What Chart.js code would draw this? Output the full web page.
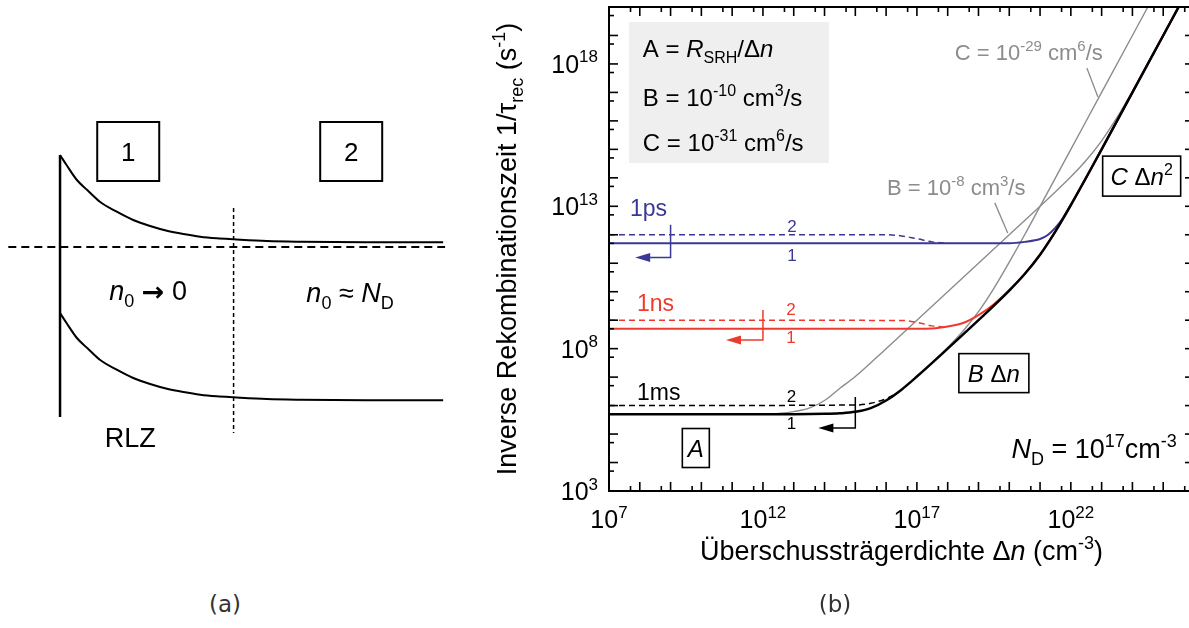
<!DOCTYPE html>
<html lang="de">
<head>
<meta charset="utf-8">
<title>Inverse Rekombinationszeit</title>
<script src="https://cdn.jsdelivr.net/npm/chart.js@4.4.1/dist/chart.umd.min.js"></script>
<style>
  html, body { margin: 0; padding: 0; background: #fff; }
  body { width: 1189px; height: 628px; position: relative; overflow: hidden; }
  .panel { position: absolute; }
  #panelA { left: 0; top: 100px; width: 460px; height: 360px; }
  #panelB { left: 490px; top: 0; width: 710px; height: 628px; }
  .caption { position: absolute; top: 591px; width: 80px; text-align: center;
             font: 23px "DejaVu Sans", sans-serif; color: #333; }
</style>
</head>
<body>
<div class="panel" id="panelA"><canvas id="bandChart"></canvas></div>
<div class="panel" id="panelB"><canvas id="rateChart"></canvas></div>
<div class="caption" style="left:185px">(a)</div>
<div class="caption" style="left:795px">(b)</div>
<script>
const FONT = '"Liberation Sans", Arial, Helvetica, sans-serif';
const BLUE = '#3b3895';
const RED = '#ee3a2d';
const GRAY = '#8c8c8c';

// ---------- (a) band diagram: position (arb. units) vs. energy relative to E_F ----------
const bandPos  = [0, 0.17, 0.44, 0.71, 1.04, 1.48, 1.91, 2.35, 2.79, 3.22, 3.66, 4.09, 4.53, 5.4, 6.27, 8.0, 10];
const condBand = [9.2, 8.2, 6.7, 5.7, 4.53, 3.53, 2.7, 2.1, 1.63, 1.3, 1.03, 0.87, 0.77, 0.6, 0.53, 0.47, 0.47];
const valBand  = [-6.6, -7.6, -9.1, -10.1, -11.27, -12.27, -13.1, -13.7, -14.17, -14.5, -14.77, -14.93, -15.03, -15.2, -15.27, -15.33, -15.33];
const fermiPos = [-1.35, 10.05];
const surfacePos = [0, 0];
const surfaceE = [9.2, -17.0];
const rlzEdgePos = [4.53, 4.53];
const rlzEdgeE = [3.9, -18.6];
const regionTags = ['1', '2'];
const regionTagPos = [1.78, 7.6];
const regionTagE = 9.55;

// ---------- (b) log10 of excess density Δn (cm^-3) and of 1/τ_rec (s^-1) ----------
// τ = 1 ms (black), 1 ns (red), 1 ps (blue); solid = region 1, dashed = region 2
const blackDn   = [7, 13, 14, 14.5, 15, 15.5, 16, 16.5, 17, 18, 19, 20, 20.5, 21, 21.5, 22, 23, 24, 25, 25.55];
const blackRate = [5.7, 5.7, 5.71, 5.73, 5.78, 5.91, 6.18, 6.56, 7.02, 8.0, 9.0, 10.04, 10.62, 11.3, 12.12, 13.04, 15.0, 17.0, 19.0, 20.1];
const blackDashDn   = [7, 15, 15.5, 16, 16.3];
const blackDashRate = [6.0, 6.02, 6.08, 6.24, 6.4];

const redDn   = [7, 17, 17.5, 18, 18.5, 19, 19.5, 20, 20.5, 21, 21.5, 22, 23, 24, 25, 25.55];
const redRate = [8.7, 8.7, 8.71, 8.78, 8.9, 9.18, 9.56, 10.06, 10.62, 11.3, 12.12, 13.04, 15.0, 17.0, 19.0, 20.1];
const redDashDn   = [7, 16.5, 17, 17.5, 17.9];
const redDashRate = [9.0, 8.99, 8.92, 8.8, 8.76];

const blueDn   = [7, 20, 20.5, 21, 21.25, 21.5, 21.75, 22, 22.5, 23, 24, 25, 25.55];
const blueRate = [11.7, 11.7, 11.75, 11.85, 11.99, 12.25, 12.6, 13.06, 14.02, 15.0, 17.0, 19.0, 20.1];
const blueDashDn   = [7, 16, 16.5, 17, 17.5, 17.9];
const blueDashRate = [12.0, 12.0, 11.96, 11.86, 11.75, 11.71];

// comparison curves with B = 1e-8 cm^3/s and C = 1e-29 cm^6/s
const grayBDn   = [12.3, 12.7, 13, 13.5, 14, 14.5, 15, 16, 17, 18, 19, 20, 21, 22, 22.5, 23, 23.5, 24, 24.5, 25, 25.55];
const grayBRate = [5.71, 5.74, 5.79, 5.91, 6.18, 6.61, 7.02, 8.0, 9.0, 10.0, 11.0, 12.0, 13.0, 14.04, 14.62, 15.3, 16.12, 17.04, 18.0, 19.0, 20.1];
const grayCDn   = [17, 17.5, 18, 18.5, 19, 19.5, 20, 20.5, 21, 22, 23, 24, 24.5];
const grayCRate = [7.02, 7.51, 8.04, 8.62, 9.3, 10.12, 11.04, 12.0, 13.0, 15.0, 17.0, 19.0, 20.0];

const xRange = [7, 26];
const yRange = [3, 20];
const xTickExp = [7, 12, 17, 22];
const yTickExp = [3, 8, 13, 18];

// τ annotations, ordered 1ps, 1ns, 1ms
const tauNames = ['1ps', '1ns', '1ms'];
const tauColors = [BLUE, RED, '#000'];
const tauNameDn = [7.68, 7.91, 7.91];
const tauNameRate = [12.94, 9.6, 6.48];
const tagDn = [12.94, 12.91, 12.93];
const tag2Rate = [12.31, 9.39, 6.34];
const tag1Rate = [11.29, 8.41, 5.39];
const arrowDn = [9.0, 12.0, 15.0];
const arrowTop = [12.35, 9.36, 6.3];
const arrowBottom = [11.2, 8.3, 5.21];
const arrowTipDn = [7.85, 10.8, 13.8];

// draws text made of [string, kind] parts; kind: n normal, i italic, sup, sub, arrow
function drawRich(ctx, parts, x, y, size, color, align) {
  const fontFor = k => {
    if (k === 'arrow') return 'bold ' + size + 'px "DejaVu Sans", sans-serif';
    const small = k === 'sup' || k === 'sub';
    return (k === 'i' ? 'italic ' : '') + (small ? Math.round(size * 0.68) : size) + 'px ' + FONT;
  };
  let w = 0;
  parts.forEach(([t, k]) => { ctx.font = fontFor(k); w += ctx.measureText(t).width; });
  let cx = align === 'center' ? x - w / 2 : align === 'right' ? x - w : x;
  ctx.fillStyle = color;
  ctx.textAlign = 'left';
  ctx.textBaseline = 'alphabetic';
  parts.forEach(([t, k]) => {
    ctx.font = fontFor(k);
    const dy = k === 'sup' ? -size * 0.42 : k === 'sub' ? size * 0.26 : k === 'arrow' ? 1 : 0;
    ctx.fillText(t, cx, y + dy);
    cx += ctx.measureText(t).width;
  });
  return w;
}

function line(ctx, x1, y1, x2, y2) {
  ctx.beginPath(); ctx.moveTo(x1, y1); ctx.lineTo(x2, y2); ctx.stroke();
}

// ---------- chart (a) ----------
function xy(xs, ys) { return xs.map((v, i) => ({ x: v, y: ys[i] })); }
function flat(xs, v) { return xs.map(p => ({ x: p, y: v })); }

const bandText = {
  id: 'bandText',
  afterDraw(chart) {
    const { ctx, scales: { x, y } } = chart;
    ctx.save();
    regionTags.forEach((t, i) => {
      const cx = x.getPixelForValue(regionTagPos[i]);
      const cy = y.getPixelForValue(regionTagE);
      ctx.strokeStyle = '#000';
      ctx.lineWidth = 2;
      ctx.strokeRect(cx - 31, cy - 29.5, 62, 59);
      drawRich(ctx, [[t, 'n']], cx, cy + 9.5, 26, '#000', 'center');
    });
    drawRich(ctx, [['n', 'i'], ['0', 'sub'], [' ', 'n'], ['\u2192', 'arrow'], [' 0', 'n']],
      x.getPixelForValue(2.3), y.getPixelForValue(-4.3) + 10, 27, '#000', 'center');
    drawRich(ctx, [['n', 'i'], ['0', 'sub'], [' \u2248 ', 'n'], ['N', 'i'], ['D', 'sub']],
      x.getPixelForValue(7.57), y.getPixelForValue(-4.5) + 10, 27, '#000', 'center');
    drawRich(ctx, [['RLZ', 'n']], x.getPixelForValue(1.83), y.getPixelForValue(-19.0) + 10, 27, '#000', 'center');
    ctx.restore();
  }
};

new Chart(document.getElementById('bandChart'), {
  type: 'scatter',
  data: {
    datasets: [
      { data: xy(bandPos, condBand), borderColor: '#000', borderWidth: 2, cubicInterpolationMode: 'monotone' },
      { data: xy(bandPos, valBand), borderColor: '#000', borderWidth: 2, cubicInterpolationMode: 'monotone' },
      { data: flat(fermiPos, 0), borderColor: '#000', borderWidth: 2, borderDash: [8, 5] },
      { data: xy(surfacePos, surfaceE), borderColor: '#000', borderWidth: 2.5 },
      { data: xy(rlzEdgePos, rlzEdgeE), borderColor: '#000', borderWidth: 1.5, borderDash: [4, 3] }
    ].map(d => Object.assign({ showLine: true, pointRadius: 0, fill: false }, d))
  },
  options: {
    responsive: true, maintainAspectRatio: false, animation: false, events: [],
    layout: { padding: 0 },
    plugins: { legend: { display: false }, tooltip: { enabled: false } },
    scales: {
      x: { type: 'linear', display: false, min: -1.567, max: 10.44 },
      y: { type: 'linear', display: false, min: -21.3, max: 14.7 }
    }
  },
  plugins: [bandText]
});

// ---------- chart (b) ----------
function logPts(xs, ys) { return xs.map((e, i) => ({ x: 10 ** e, y: 10 ** ys[i] })); }
function series(xs, ys, color, width, dash, order) {
  return {
    data: logPts(xs, ys), showLine: true, pointRadius: 0, fill: false,
    borderColor: color, borderWidth: width, borderDash: dash || [],
    cubicInterpolationMode: 'monotone', order: order
  };
}
const decades = r => Array.from({ length: r[1] - r[0] + 1 }, (_, i) => r[0] + i);

const legendPanel = {
  id: 'legendPanel',
  beforeDatasetsDraw(chart) {
    const { ctx, scales: { x, y } } = chart;
    const X = e => x.getPixelForValue(10 ** e), Y = e => y.getPixelForValue(10 ** e);
    ctx.save();
    ctx.fillStyle = '#efefef';
    ctx.fillRect(X(7.65), Y(19.47), X(14.14) - X(7.65), Y(14.52) - Y(19.47));
    ctx.restore();
  }
};

const axesAndNotes = {
  id: 'axesAndNotes',
  afterDatasetsDraw(chart) {
    const { ctx, chartArea: ca, scales: { x, y } } = chart;
    const X = e => x.getPixelForValue(10 ** e), Y = e => y.getPixelForValue(10 ** e);
    ctx.save();

    // frame and inward ticks on all four sides
    ctx.strokeStyle = '#000';
    ctx.lineWidth = 2;
    ctx.strokeRect(ca.left, ca.top, ca.right - ca.left, ca.bottom - ca.top);
    ctx.lineWidth = 1.6;
    decades(xRange).forEach(e => {
      [[e, 9], [e + Math.log10(5), 5]].forEach(([v, len]) => {
        if (v >= xRange[1]) return;
        const px = X(v);
        line(ctx, px, ca.bottom, px, ca.bottom - len);
        line(ctx, px, ca.top, px, ca.top + len);
      });
    });
    decades(yRange).forEach(e => {
      [[e, 9], [e + Math.log10(5), 5]].forEach(([v, len]) => {
        if (v >= yRange[1]) return;
        const py = Y(v);
        line(ctx, ca.left, py, ca.left + len, py);
        line(ctx, ca.right, py, ca.right - len, py);
      });
    });

    // tick labels
    xTickExp.forEach(e => drawRich(ctx, [['10', 'n'], [String(e), 'sup']], X(e), 528, 25, '#000', 'center'));
    yTickExp.forEach(e => drawRich(ctx, [['10', 'n'], [String(e), 'sup']], ca.left - 11, Y(e) + 9, 25, '#000', 'right'));

    // axis titles
    drawRich(ctx, [['\u00dcberschusstr\u00e4gerdichte \u0394', 'n'], ['n', 'i'], [' (cm', 'n'], ['-3', 'sup'], [')', 'n']],
      (ca.left + ca.right) / 2, 560, 27, '#000', 'center');
    ctx.save();
    ctx.translate(17, (ca.top + ca.bottom) / 2);
    ctx.rotate(-Math.PI / 2);
    drawRich(ctx, [['Inverse Rekombinationszeit 1/\u03c4', 'n'], ['rec', 'sub'], [' (s', 'n'], ['-1', 'sup'], [')', 'n']],
      0, 9, 27, '#000', 'center');
    ctx.restore();

    // parameter panel text
    drawRich(ctx, [['A = ', 'n'], ['R', 'i'], ['SRH', 'sub'], ['/\u0394', 'n'], ['n', 'i']], X(8.1), Y(18.56) + 9, 24, '#000', 'left');
    drawRich(ctx, [['B = 10', 'n'], ['-10', 'sup'], [' cm', 'n'], ['3', 'sup'], ['/s', 'n']], X(8.1), Y(16.84) + 9, 24, '#000', 'left');
    drawRich(ctx, [['C = 10', 'n'], ['-31', 'sup'], [' cm', 'n'], ['6', 'sup'], ['/s', 'n']], X(8.1), Y(15.26) + 9, 24, '#000', 'left');

    // τ labels, region tags and left-pointing arrows
    tauNames.forEach((name, i) => {
      const c = tauColors[i];
      drawRich(ctx, [[name, 'n']], X(tauNameDn[i]), Y(tauNameRate[i]) + 8, 23, c, 'left');
      drawRich(ctx, [['2', 'n']], X(tagDn[i]), Y(tag2Rate[i]) + 6, 17, c, 'center');
      drawRich(ctx, [['1', 'n']], X(tagDn[i]), Y(tag1Rate[i]) + 6, 17, c, 'center');
      const ax = X(arrowDn[i]), yb = Y(arrowBottom[i]), tip = X(arrowTipDn[i]);
      ctx.strokeStyle = c;
      ctx.fillStyle = c;
      ctx.lineWidth = 1.5;
      ctx.beginPath();
      ctx.moveTo(ax, Y(arrowTop[i]));
      ctx.lineTo(ax, yb);
      ctx.lineTo(tip + 10, yb);
      ctx.stroke();
      ctx.beginPath();
      ctx.moveTo(tip, yb);
      ctx.lineTo(tip + 15, yb - 4.5);
      ctx.lineTo(tip + 15, yb + 4.5);
      ctx.closePath();
      ctx.fill();
    });

    // boxed regime labels
    const boxed = (parts, e1, e2, w, h) => {
      const cx = X(e1), cy = Y(e2);
      ctx.fillStyle = '#fff';
      ctx.fillRect(cx - w / 2, cy - h / 2, w, h);
      ctx.strokeStyle = '#000';
      ctx.lineWidth = 1.6;
      ctx.strokeRect(cx - w / 2, cy - h / 2, w, h);
      drawRich(ctx, parts, cx, cy + 8.5, 24, '#000', 'center');
    };
    boxed([['A', 'i']], 9.82, 4.51, 27, 39);
    boxed([['B', 'i'], [' \u0394', 'n'], ['n', 'i']], 19.5, 7.14, 70, 39);
    boxed([['C', 'i'], [' \u0394', 'n'], ['n', 'i'], ['2', 'sup']], 24.3, 14.06, 78, 40);

    // doping note
    drawRich(ctx, [['N', 'i'], ['D', 'sub'], [' = 10', 'n'], ['17', 'sup'], ['cm', 'n'], ['-3', 'sup']],
      X(25.44), Y(4.51) + 10, 27, '#000', 'right');

    // comparison curve labels with leader lines
    drawRich(ctx, [['C = 10', 'n'], ['-29', 'sup'], [' cm', 'n'], ['6', 'sup'], ['/s', 'n']], X(18.23), Y(18.42) + 8, 22, GRAY, 'left');
    drawRich(ctx, [['B = 10', 'n'], ['-8', 'sup'], [' cm', 'n'], ['3', 'sup'], ['/s', 'n']], X(16.03), Y(13.68) + 8, 22, GRAY, 'left');
    ctx.strokeStyle = GRAY;
    ctx.lineWidth = 1.3;
    line(ctx, X(22.52), Y(17.86), X(22.88), Y(16.84));
    line(ctx, X(19.53), Y(13.12), X(19.95), Y(12.06));

    ctx.restore();
  }
};

new Chart(document.getElementById('rateChart'), {
  type: 'scatter',
  data: {
    datasets: [
      series(blackDn, blackRate, '#000', 2.5, null, 0),
      series(redDn, redRate, RED, 2, null, 1),
      series(blueDn, blueRate, BLUE, 2, null, 1),
      series(blackDashDn, blackDashRate, '#000', 1.5, [6, 4], 2),
      series(redDashDn, redDashRate, RED, 1.5, [6, 4], 2),
      series(blueDashDn, blueDashRate, BLUE, 1.5, [6, 4], 2),
      series(grayBDn, grayBRate, GRAY, 1.4, null, 3),
      series(grayCDn, grayCRate, GRAY, 1.4, null, 3)
    ]
  },
  options: {
    responsive: true, maintainAspectRatio: false, animation: false, events: [],
    layout: { padding: { top: 7, right: 6, left: 0, bottom: 0 } },
    plugins: { legend: { display: false }, tooltip: { enabled: false } },
    scales: {
      x: {
        type: 'logarithmic', min: 10 ** xRange[0], max: 10 ** xRange[1],
        grid: { display: false }, border: { display: false }, ticks: { display: false },
        afterBuildTicks: s => { s.ticks = decades(xRange).map(e => ({ value: 10 ** e })); },
        afterFit: s => { s.height = 137; }
      },
      y: {
        type: 'logarithmic', min: 10 ** yRange[0], max: 10 ** yRange[1],
        grid: { display: false }, border: { display: false }, ticks: { display: false },
        afterBuildTicks: s => { s.ticks = decades(yRange).map(e => ({ value: 10 ** e })); },
        afterFit: s => { s.width = 119; }
      }
    }
  },
  plugins: [legendPanel, axesAndNotes]
});
</script>
</body>
</html>
